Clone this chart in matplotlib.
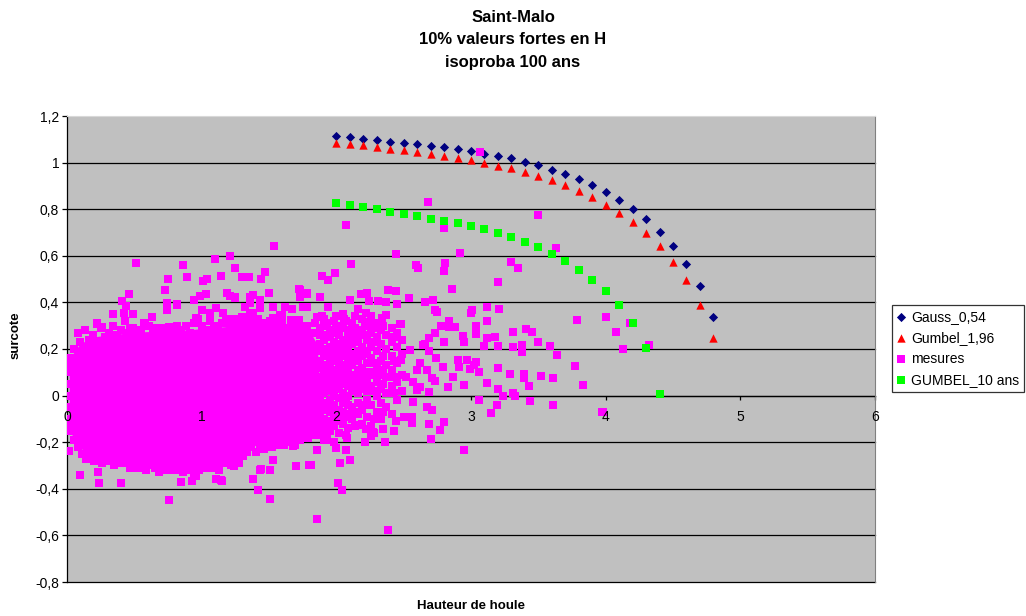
import numpy as np
import matplotlib.pyplot as plt

plt.rcParams['font.family'] = ['Liberation Sans', 'DejaVu Sans']

# Isoprobability curves (H in m, surcote in m)
h_courbe = [2.0, 2.1, 2.2, 2.3, 2.4, 2.5, 2.6, 2.7, 2.8, 2.9, 3.0, 3.1, 3.2, 3.3, 3.4,
            3.5, 3.6, 3.7, 3.8, 3.9, 4.0, 4.1, 4.2, 4.3, 4.4, 4.5, 4.6, 4.7, 4.8]
gauss_054 = [1.113, 1.108, 1.102, 1.096, 1.090, 1.084, 1.078, 1.071, 1.065, 1.057, 1.049,
             1.037, 1.029, 1.018, 1.003, 0.989, 0.970, 0.951, 0.928, 0.903, 0.875, 0.839,
             0.800, 0.756, 0.703, 0.642, 0.566, 0.472, 0.337]
gumbel_196 = [1.084, 1.079, 1.075, 1.067, 1.060, 1.055, 1.046, 1.037, 1.027, 1.019, 1.010,
              1.000, 0.987, 0.975, 0.960, 0.943, 0.926, 0.904, 0.879, 0.853, 0.820, 0.784,
              0.743, 0.697, 0.642, 0.574, 0.495, 0.390, 0.247]
h_gumbel10 = [2.0, 2.1, 2.2, 2.3, 2.4, 2.5, 2.6, 2.7, 2.8, 2.9, 3.0, 3.1, 3.2, 3.3, 3.4,
              3.5, 3.6, 3.7, 3.8, 3.9, 4.0, 4.1, 4.2, 4.3, 4.4]
gumbel_10ans = [0.825, 0.816, 0.808, 0.799, 0.790, 0.780, 0.772, 0.760, 0.750, 0.739, 0.726,
                0.713, 0.696, 0.679, 0.658, 0.636, 0.606, 0.576, 0.540, 0.497, 0.447, 0.387,
                0.310, 0.203, 0.006]

# mesures: outline of the saturated part of the cloud
nuage_x = [0.02, 0.05, 0.10, 0.20, 0.50, 0.90, 1.20, 1.60, 1.80, 1.86, 1.88, 1.87, 1.85,
           1.75, 1.60, 1.45, 1.34, 1.25, 1.10, 0.80, 0.50, 0.30, 0.15, 0.08, 0.04, 0.02]
nuage_y = [0.12, 0.18, 0.22, 0.25, 0.27, 0.28, 0.295, 0.295, 0.28, 0.22, 0.05, -0.10, -0.15,
           -0.16, -0.19, -0.205, -0.23, -0.27, -0.295, -0.30, -0.29, -0.27, -0.255, -0.21,
           -0.17, -0.11]

# mesures along the top of the cloud
bord_haut = [(0.03, 0.16), (0.05, 0.20), (0.08, 0.27), (0.10, 0.23), (0.13, 0.28), (0.16, 0.24),
             (0.19, 0.26), (0.22, 0.31), (0.25, 0.29), (0.28, 0.25), (0.31, 0.27), (0.34, 0.30),
             (0.37, 0.26), (0.40, 0.28), (0.43, 0.32), (0.46, 0.27), (0.49, 0.29), (0.52, 0.26),
             (0.55, 0.28), (0.58, 0.31), (0.61, 0.30), (0.64, 0.27), (0.67, 0.29), (0.70, 0.29),
             (0.73, 0.26), (0.76, 0.29), (0.79, 0.27), (0.82, 0.30), (0.85, 0.28), (0.88, 0.30),
             (0.91, 0.27), (0.94, 0.31), (0.97, 0.33), (1.00, 0.30), (1.03, 0.28), (1.06, 0.32),
             (1.09, 0.30), (1.12, 0.29), (1.15, 0.31), (1.18, 0.33), (1.21, 0.30), (1.24, 0.33),
             (1.27, 0.30), (1.30, 0.32), (1.33, 0.29), (1.36, 0.31), (1.39, 0.30), (1.42, 0.33),
             (1.45, 0.31), (1.48, 0.29), (1.51, 0.32), (1.54, 0.30), (1.57, 0.33), (1.60, 0.31),
             (1.63, 0.29), (1.66, 0.32), (1.69, 0.30), (1.72, 0.32), (1.75, 0.29), (1.78, 0.30),
             (1.81, 0.27), (1.84, 0.31)]

# mesures along the bottom and left side of the cloud
bord_bas = [(0.03, -0.15), (0.05, -0.19), (0.08, -0.22), (0.11, -0.25), (0.14, -0.27), (0.17, -0.26),
            (0.20, -0.28), (0.23, -0.27), (0.26, -0.29), (0.29, -0.27), (0.32, -0.28), (0.35, -0.30),
            (0.38, -0.28), (0.41, -0.29), (0.44, -0.28), (0.47, -0.31), (0.50, -0.29), (0.53, -0.31),
            (0.56, -0.30), (0.59, -0.32), (0.62, -0.30), (0.65, -0.31), (0.68, -0.33), (0.71, -0.31),
            (0.74, -0.32), (0.77, -0.30), (0.80, -0.32), (0.83, -0.31), (0.86, -0.33), (0.89, -0.31),
            (0.92, -0.32), (0.95, -0.30), (0.98, -0.32), (1.01, -0.31), (1.04, -0.29), (1.07, -0.31),
            (1.10, -0.30), (1.13, -0.32), (1.16, -0.29), (1.19, -0.28), (1.22, -0.30), (1.25, -0.27),
            (1.28, -0.29), (1.31, -0.26), (1.34, -0.24), (1.37, -0.22), (1.40, -0.24), (1.43, -0.21),
            (1.46, -0.23), (1.49, -0.20), (1.52, -0.22), (1.55, -0.21), (1.58, -0.19), (1.61, -0.21),
            (1.64, -0.18), (1.67, -0.20), (1.70, -0.17), (1.73, -0.19), (1.76, -0.16), (1.79, -0.18),
            (1.82, -0.15), (1.85, -0.17),
            (0.01, -0.10), (0.01, -0.05), (0.01, 0.00), (0.01, 0.05), (0.01, 0.10), (0.02, 0.13),
            (0.03, -0.13)]

# mesures between H = 1.85 and 2.5, column by column
colonnes = [
    (1.865, [-0.14, -0.07, 0.00, 0.07, 0.14, 0.21, 0.27]),
    (1.88, [-0.16, -0.12, -0.09, -0.05, -0.02, 0.02, 0.05, 0.08, 0.12, 0.15, 0.19, 0.22, 0.26, 0.29]),
    (1.91, [-0.19, -0.14, -0.10, -0.06, -0.03, 0.01, 0.04, 0.09, 0.13, 0.17, 0.20, 0.24, 0.30, 0.33]),
    (1.93, [-0.17, -0.12, -0.04, 0.03, 0.07, 0.11, 0.18, 0.26, 0.31]),
    (1.95, [-0.15, -0.11, -0.07, -0.02, 0.02, 0.06, 0.10, 0.13, 0.16, 0.21, 0.25, 0.28]),
    (1.98, [-0.20, -0.13, -0.08, -0.04, 0.00, 0.03, 0.08, 0.11, 0.15, 0.18, 0.23, 0.27, 0.32]),
    (2.00, [-0.11, -0.06, 0.05, 0.10, 0.17, 0.21, 0.29, 0.34]),
    (2.02, [-0.16, -0.10, -0.06, -0.01, 0.03, 0.07, 0.12, 0.14, 0.19, 0.22, 0.26, 0.30]),
    (2.05, [-0.12, -0.07, -0.03, 0.01, 0.05, 0.09, 0.13, 0.17, 0.21, 0.24, 0.29, 0.35]),
    (2.07, [-0.17, -0.09, -0.01, 0.07, 0.11, 0.19, 0.23, 0.32]),
    (2.09, [-0.14, -0.08, -0.04, 0.00, 0.04, 0.10, 0.14, 0.16, 0.20, 0.25, 0.28]),
    (2.12, [-0.10, -0.05, 0.02, 0.06, 0.09, 0.13, 0.18, 0.22, 0.27, 0.31]),
    (2.14, [-0.13, -0.07, 0.04, 0.08, 0.16, 0.24, 0.29, 0.34]),
    (2.16, [-0.08, -0.03, 0.01, 0.05, 0.11, 0.15, 0.19, 0.23, 0.26, 0.37]),
    (2.19, [-0.12, -0.06, 0.03, 0.08, 0.12, 0.17, 0.21, 0.28, 0.33]),
    (2.21, [-0.04, 0.05, 0.10, 0.19, 0.26, 0.31]),
    (2.23, [-0.09, -0.02, 0.02, 0.07, 0.14, 0.18, 0.24, 0.30]),
    (2.26, [-0.13, -0.04, 0.04, 0.10, 0.16, 0.21, 0.27, 0.34]),
    (2.28, [-0.10, 0.02, 0.09, 0.14, 0.23, 0.29]),
    (2.30, [-0.07, 0.00, 0.06, 0.12, 0.19, 0.25, 0.31]),
    (2.33, [-0.10, -0.03, 0.03, 0.09, 0.15, 0.22, 0.28]),
    (2.35, [-0.07, 0.05, 0.11, 0.17, 0.30]),
    (2.37, [-0.05, 0.01, 0.08, 0.13, 0.20, 0.26]),
    (2.41, [-0.08, 0.04, 0.11, 0.17, 0.23, 0.29]),
    (2.43, [0.01, 0.08, 0.15, 0.25]),
    (2.45, [-0.02, 0.06, 0.14, 0.21, 0.27]),
    (2.49, [0.02, 0.09, 0.18, 0.24]),
]

# isolated mesures
isoles = [
    # above the cloud
    (0.22, 0.306), (0.26, 0.296), (0.34, 0.349), (0.42, 0.353), (0.43, 0.321), (0.49, 0.350),
    (0.47, 0.289), (0.57, 0.313), (0.63, 0.336), (0.74, 0.367), (0.82, 0.389), (0.76, 0.293),
    (0.96, 0.332), (1.00, 0.367), (1.06, 0.353), (1.11, 0.375), (1.16, 0.353), (1.24, 0.327),
    (1.30, 0.336), (1.36, 0.346), (1.32, 0.381), (1.38, 0.353), (1.43, 0.375), (1.46, 0.313),
    (1.53, 0.332), (1.60, 0.346), (1.53, 0.381), (1.58, 0.346), (1.66, 0.324), (1.72, 0.324),
    (1.86, 0.336), (1.62, 0.381), (1.67, 0.372), (1.75, 0.381), (0.46, 0.435), (0.41, 0.406),
    (0.44, 0.384), (0.73, 0.452), (0.74, 0.399), (0.82, 0.392), (0.94, 0.410), (0.99, 0.427),
    (1.03, 0.436), (1.19, 0.439), (1.21, 0.427), (1.25, 0.417), (1.38, 0.432), (1.36, 0.396),
    (1.43, 0.410), (1.50, 0.439), (1.72, 0.456), (1.73, 0.424), (1.78, 0.436), (1.88, 0.422),
    (1.78, 0.379), (1.89, 0.342), (1.94, 0.379), (1.25, 0.424), (1.36, 0.424),
    (0.51, 0.570), (0.86, 0.560), (1.10, 0.585), (1.21, 0.599), (1.54, 0.640), (1.25, 0.549),
    (0.75, 0.500), (0.89, 0.510), (1.01, 0.492), (1.04, 0.500), (1.14, 0.514), (1.30, 0.510),
    (1.35, 0.509), (1.44, 0.500), (1.47, 0.530), (2.07, 0.734), (2.11, 0.563), (1.99, 0.525),
    (1.94, 0.495), (1.89, 0.513),
    # below the cloud
    (0.015, -0.237), (0.10, -0.34), (0.23, -0.33), (0.24, -0.377), (0.40, -0.374), (0.76, -0.446),
    (0.85, -0.37), (0.93, -0.366), (0.96, -0.344), (1.15, -0.368), (1.11, -0.358), (1.38, -0.356),
    (1.42, -0.405), (1.51, -0.444), (1.44, -0.315), (1.51, -0.318), (1.53, -0.276), (1.70, -0.301),
    (1.80, -0.296), (1.86, -0.53), (1.86, -0.233), (2.00, -0.223), (2.07, -0.233), (2.03, -0.29),
    (2.10, -0.276), (2.01, -0.373), (2.04, -0.404), (1.69, -0.214), (2.21, -0.198), (2.28, -0.161),
    (2.08, -0.183), (1.93, -0.19), (2.16, -0.126), (2.22, -0.143), (2.27, -0.156), (2.26, -0.175),
    (2.35, -0.143), (2.36, -0.198), (2.44, -0.111), (2.43, -0.153), (1.81, -0.297), (2.38, -0.577),
    (1.68, -0.216), (1.43, -0.318), (1.24, -0.304), (1.14, -0.361), (0.94, -0.347), (0.89, -0.318),
    # right of the cloud
    (2.68, 0.833), (3.07, 1.046), (3.50, 0.777), (2.80, 0.721), (3.63, 0.634), (2.44, 0.607),
    (2.92, 0.613), (2.59, 0.559), (2.61, 0.546), (2.81, 0.567), (2.80, 0.534), (3.30, 0.574),
    (3.35, 0.549), (3.20, 0.486), (2.86, 0.457), (2.38, 0.455), (2.44, 0.451), (2.54, 0.421),
    (2.66, 0.403), (2.72, 0.410), (2.73, 0.369), (2.75, 0.359), (3.12, 0.381), (3.21, 0.373),
    (3.01, 0.367), (3.00, 0.354), (3.12, 0.322), (3.79, 0.323), (4.00, 0.338), (4.08, 0.275),
    (3.31, 0.274), (3.41, 0.286), (3.45, 0.273), (3.04, 0.300), (3.04, 0.264), (2.10, 0.410),
    (2.18, 0.435), (2.23, 0.441), (2.24, 0.406), (2.31, 0.407), (2.37, 0.403), (2.45, 0.393),
    (2.22, 0.356), (2.37, 0.346), (2.34, 0.332), (2.24, 0.317), (2.47, 0.307), (2.48, 0.307),
    (2.06, 0.329), (1.78, 0.441), (1.73, 0.453), (1.94, 0.381), (2.94, 0.256), (2.95, 0.229),
    (2.80, 0.230), (2.78, 0.299), (2.84, 0.293), (2.88, 0.296), (2.84, 0.321), (2.73, 0.270),
    (2.69, 0.246), (2.66, 0.220), (2.64, 0.217), (3.12, 0.246), (3.10, 0.213), (3.18, 0.250),
    (3.20, 0.213), (3.38, 0.217), (3.31, 0.210), (3.38, 0.186), (3.50, 0.230), (3.59, 0.213),
    (3.64, 0.174), (3.77, 0.129), (3.83, 0.047), (3.61, 0.075), (3.52, 0.086), (3.43, 0.043),
    (3.39, 0.092), (3.39, 0.077), (3.29, 0.092), (3.20, 0.120), (3.20, 0.029), (3.12, 0.053),
    (3.06, 0.103), (3.02, 0.132), (2.99, 0.113), (3.04, 0.143), (2.97, 0.153), (2.90, 0.153),
    (2.91, 0.122), (2.87, 0.080), (2.95, 0.047), (2.83, 0.036), (2.79, 0.122), (2.74, 0.160),
    (2.71, 0.075), (2.73, 0.064), (2.69, 0.017), (3.24, 0.000), (3.31, 0.013), (3.33, -0.003),
    (3.44, -0.023), (3.61, -0.041), (3.19, -0.040), (3.15, -0.076), (3.06, -0.018), (3.97, -0.070),
    (2.95, -0.233), (2.80, -0.114), (2.77, -0.147), (2.70, -0.187), (2.69, -0.121), (2.71, -0.061),
    (2.67, -0.047), (2.62, 0.039), (2.57, -0.026), (2.60, 0.024), (2.56, -0.090), (2.56, -0.116),
    (2.50, -0.090), (2.55, 0.196), (2.62, 0.139), (2.69, 0.193), (2.60, 0.110), (2.52, 0.081),
    (2.48, 0.153), (2.57, 0.060), (2.67, 0.110), (4.13, 0.199), (4.32, 0.216), (4.18, 0.310),
    (3.98, -0.069),
]

titre = ['Saint-Malo', '10% valeurs fortes en H', 'isoproba 100 ans']
y_ticks = [1.2, 1.0, 0.8, 0.6, 0.4, 0.2, 0.0, -0.2, -0.4, -0.6, -0.8]
y_labels = ['1,2', '1', '0,8', '0,6', '0,4', '0,2', '0', '-0,2', '-0,4', '-0,6', '-0,8']
x_ticks = [0, 1, 2, 3, 4, 5, 6]

mesures = np.array(bord_haut + bord_bas
                   + [(x, y) for x, ys in colonnes for y in ys]
                   + isoles)

W, H = 1026, 616
fig = plt.figure(figsize=(W / 100, H / 100), dpi=100)
ax = fig.add_axes([67 / W, 1 - 582 / H, (875 - 67) / W, (582 - 116) / H])
ax.set_facecolor('#C0C0C0')
ax.set_xlim(0, 6)
ax.set_ylim(-0.8, 1.2)
ax.set_axisbelow(True)

for v in y_ticks[1:]:
    ax.axhline(v, color='black', lw=0.9, zorder=0.5, clip_on=False)

ax.scatter(h_courbe, gauss_054, marker='D', s=22, color='#000080', linewidths=0,
           label='Gauss_0,54', zorder=3)
ax.scatter(h_courbe, gumbel_196, marker='^', s=36, color='#FF0000', linewidths=0,
           label='Gumbel_1,96', zorder=3)
ax.fill(nuage_x, nuage_y, color='#FF00FF', lw=0, zorder=4)
ax.scatter(mesures[:, 0], mesures[:, 1], marker='s', s=26, color='#FF00FF', linewidths=0,
           label='mesures', zorder=4)
ax.scatter(h_gumbel10, gumbel_10ans, marker='s', s=36, color='#00FF00', linewidths=0,
           label='GUMBEL_10 ans', zorder=5)

# axes
ax.spines['bottom'].set_position(('data', 0))
ax.spines['bottom'].set_zorder(0.6)
ax.spines['bottom'].set_linewidth(0.9)
ax.spines['left'].set_linewidth(0.9)
ax.spines['right'].set_color('#808080')
ax.spines['top'].set_color('#D8D8D8')

ax.set_yticks(y_ticks)
ax.set_yticklabels(y_labels)
ax.set_xticks(x_ticks)
ax.tick_params(axis='y', direction='out', length=3.6, width=0.9, pad=2, labelsize=10)
ax.tick_params(axis='x', direction='out', length=3, width=0.9, labelbottom=False)
for v in x_ticks:
    ax.annotate(str(v), (v, 0), xytext=(0, -21.5), textcoords='offset pixels',
                ha='center', va='center', fontsize=10, zorder=6)

for ligne, yp in zip(titre, [17, 40, 62]):
    fig.text(513 / W, 1 - yp / H, ligne, ha='center', va='center',
             fontsize=12, fontweight='bold')
fig.text(16 / W, 1 - 335 / H, 'surcote', rotation=90, ha='center', va='center',
         fontsize=9.5, fontweight='bold')
fig.text(471 / W, 1 - 606 / H, 'Hauteur de houle', ha='center', va='center',
         fontsize=9.5, fontweight='bold')

leg = fig.legend(loc='upper left', bbox_to_anchor=(892 / W, 1 - 305 / H), frameon=True,
                 fancybox=False, edgecolor='black', fontsize=10, borderaxespad=0,
                 borderpad=0.35, labelspacing=0.5, handlelength=0.6, handletextpad=0.4,
                 scatterpoints=1)
leg.get_frame().set_linewidth(0.9)

fig.savefig('out.png', dpi=100)
